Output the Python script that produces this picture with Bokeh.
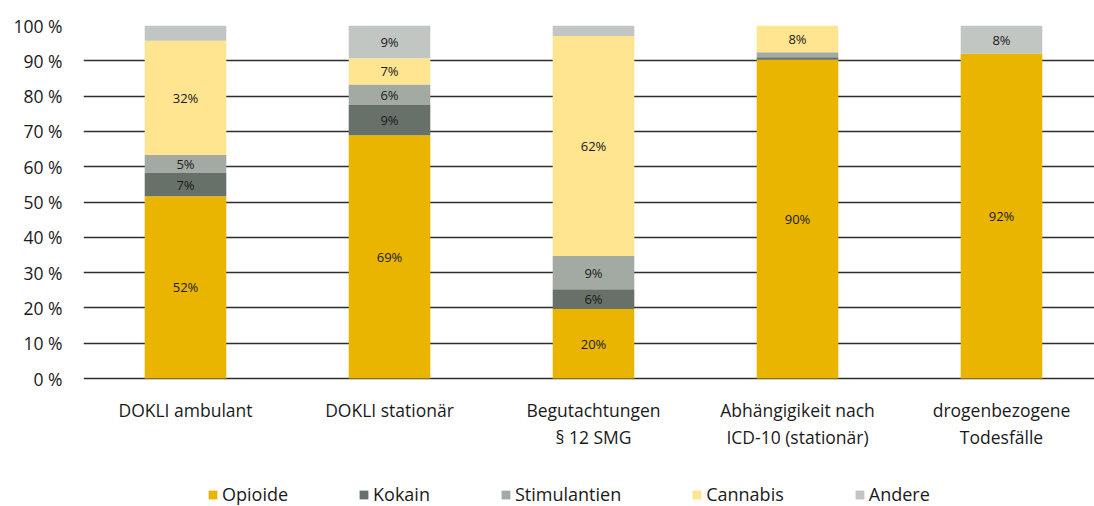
from bokeh.plotting import figure
from bokeh.models import (ColumnDataSource, Range1d, FixedTicker, Legend, LegendItem)
from bokeh.core.properties import value
from bokeh.embed import file_html
from bokeh.resources import INLINE

categories = ["DOKLI ambulant", "DOKLI stationär", "Begutachtungen\n§ 12 SMG",
              "Abhängigikeit nach\nICD-10 (stationär)", "drogenbezogene\nTodesfälle"]
series = ["Opioide", "Kokain", "Stimulantien", "Cannabis", "Andere"]
opioide = [51.6, 68.9, 19.7, 90.3, 92.0]
kokain = [6.6, 8.6, 5.6, 0.7, 0.0]
stimulantien = [5.1, 5.8, 9.4, 1.4, 0.0]
cannabis = [32.4, 7.4, 62.3, 7.6, 0.0]
andere = [4.3, 9.3, 3.0, 0.0, 8.0]
colors = ["#E9B500", "#687169", "#A3AAA4", "#FFE590", "#C1C6C3"]
y_ticks = [0, 10, 20, 30, 40, 50, 60, 70, 80, 90, 100]

FONT = "Open Sans"
W, H = 1094, 506
LEFT, TOP, BOTTOM_OF_ZERO = 83, 25, 378
px_per_unit = (BOTTOM_OF_ZERO - TOP) / 100.0
y_start = -(H - BOTTOM_OF_ZERO) / px_per_unit

xs = [i + 0.5 for i in range(len(categories))]
data = {"x": xs, "Opioide": opioide, "Kokain": kokain, "Stimulantien": stimulantien,
        "Cannabis": cannabis, "Andere": andere}
src = ColumnDataSource(data)

p = figure(width=W, height=H, output_backend="svg", toolbar_location=None,
           x_range=Range1d(0, (W - LEFT) / 204), y_range=Range1d(y_start, 100),
           min_border_left=LEFT, min_border_right=0, min_border_top=TOP, min_border_bottom=0)
p.outline_line_color = None
p.xaxis.visible = False

renderers = p.vbar_stack(series, x="x", width=0.4, color=colors, line_color=None, source=src)

# segment labels
lx, ly, lt = [], [], []
vals = [opioide, kokain, stimulantien, cannabis, andere]
for i, x in enumerate(xs):
    base = 0.0
    for s in vals:
        v = s[i]
        if round(v) >= 5:
            lx.append(x)
            ly.append(base + v / 2)
            lt.append(f"{round(v)}%")
        base += v
p.text(x=lx, y=ly, text=lt, text_align="center", text_baseline="middle",
       text_font=value(FONT), text_font_size="13px", text_color="#1a1a1a")

# category labels (below the zero line)
p.text(x=xs, y=[0] * len(xs), text=categories, text_align="center", text_baseline="top",
       y_offset=19, text_font=value(FONT), text_font_size="17.5px", text_color="#1a1a1a",
       text_line_height=1.15)

# y axis
p.yaxis.ticker = FixedTicker(ticks=y_ticks)
p.yaxis.major_label_overrides = {t: f"{t} %" for t in y_ticks}
p.yaxis.axis_line_color = None
p.yaxis.major_tick_line_color = None
p.yaxis.minor_tick_line_color = None
p.yaxis.major_label_standoff = 15
p.yaxis.major_label_text_font = FONT
p.yaxis.major_label_text_font_size = "17.5px"
p.yaxis.major_label_text_color = "#1a1a1a"

p.xgrid.grid_line_color = None
p.ygrid.ticker = FixedTicker(ticks=y_ticks)
p.ygrid.grid_line_color = "#2e2e2e"
p.ygrid.grid_line_width = 1.5

legend = Legend(items=[LegendItem(label=s, renderers=[r]) for s, r in zip(series, renderers)],
                orientation="horizontal", location=(124, 0),
                glyph_width=11, glyph_height=11, label_standoff=4, spacing=70,
                padding=0, margin=0, border_line_color=None, background_fill_alpha=0,
                label_text_font=FONT, label_text_font_size="18px", label_text_color="#1a1a1a")
p.add_layout(legend, "center")

open("out.html", "w").write(file_html(p, INLINE))
